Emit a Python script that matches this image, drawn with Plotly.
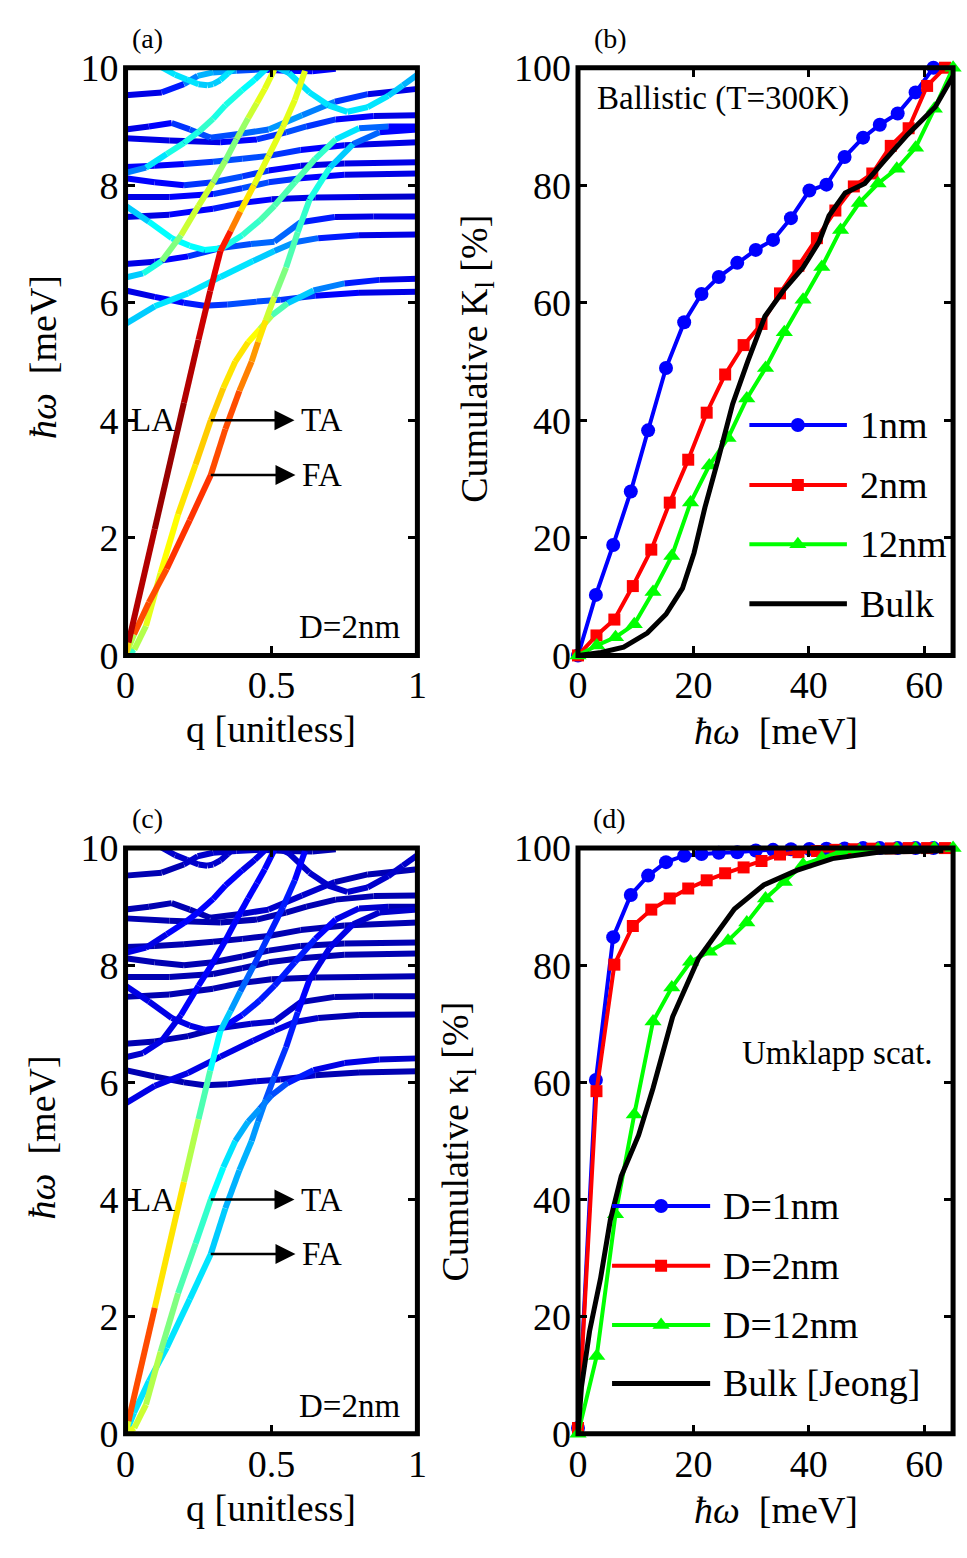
import plotly.graph_objects as go

W, H = 967, 1558
SERIF = "Liberation Serif"

# ---------------- phonon dispersion of the D = 2 nm wire ----------------
# q is unitless, E in meV; *_ca / *_cc are the jet colour weights along each
# branch for the ballistic (a) and Umklapp (c) panels.
LA_q = [0, 0.01, 0.1, 0.2, 0.25, 0.29, 0.325, 0.36, 0.393, 0.44, 0.49, 0.54, 0.58, 0.615]
LA_E = [0, 0.22, 2.15, 4.3, 5.37, 6.2, 6.88, 7.22, 7.55, 8.0, 8.5, 9.0, 9.45, 9.95]
LA_ca = [0.4, 0.95, 0.97, 0.97, 0.95, 0.92, 0.88, 0.8, 0.7, 0.62, 0.6, 0.6, 0.62, 0.6]
LA_cc = [0.3, 0.9, 0.72, 0.58, 0.5, 0.42, 0.35, 0.3, 0.25, 0.2, 0.17, 0.15, 0.14, 0.13]

TA_q = [0, 0.03, 0.07, 0.12, 0.18, 0.24, 0.292, 0.335, 0.376, 0.42, 0.46, 0.5, 0.555, 0.644, 0.75, 0.87, 1.0]
TA_E = [0, 0.1, 0.5, 1.4, 2.4, 3.25, 4.0, 4.55, 5.0, 5.33, 5.55, 5.78, 5.99, 6.21, 6.33, 6.39, 6.41]
TA_ca = [0.35, 0.5, 0.58, 0.62, 0.65, 0.67, 0.68, 0.67, 0.65, 0.63, 0.6, 0.5, 0.38, 0.28, 0.2, 0.12, 0.1]
TA_cc = [0.62, 0.6, 0.56, 0.52, 0.48, 0.44, 0.4, 0.36, 0.32, 0.28, 0.25, 0.22, 0.18, 0.12, 0.1, 0.08, 0.07]

FA_q = [0, 0.029, 0.08, 0.141, 0.22, 0.292, 0.342, 0.39, 0.432, 0.454, 0.48, 0.51, 0.55, 0.59, 0.63, 0.7, 0.78, 0.87, 1.0]
FA_E = [0, 0.36, 0.9, 1.47, 2.3, 3.07, 3.85, 4.5, 5.0, 5.33, 5.7, 6.1, 6.6, 7.2, 7.75, 8.3, 8.7, 8.9, 8.95]
FA_ca = [0.3, 0.78, 0.8, 0.82, 0.82, 0.82, 0.8, 0.78, 0.74, 0.7, 0.62, 0.52, 0.46, 0.44, 0.42, 0.38, 0.28, 0.15, 0.1]
FA_cc = [0.35, 0.36, 0.36, 0.36, 0.35, 0.34, 0.32, 0.3, 0.28, 0.26, 0.22, 0.18, 0.15, 0.13, 0.12, 0.1, 0.08, 0.07, 0.06]

O1_q = [0.12, 0.17, 0.21, 0.25, 0.28, 0.3, 0.325, 0.35, 0.376]
O1_E = [10.02, 9.88, 9.8, 9.72, 9.7, 9.72, 9.79, 9.9, 10.02]
O1_ca = [0.36, 0.36, 0.35, 0.34, 0.33, 0.33, 0.34, 0.35, 0.36]
O1_cc = [0.08, 0.08, 0.08, 0.08, 0.08, 0.08, 0.08, 0.08, 0.08]

O2_q = [0, 0.124, 0.2, 0.247, 0.3, 0.38, 0.46, 0.55, 0.64, 0.72]
O2_E = [9.53, 9.58, 9.72, 9.86, 9.92, 9.95, 9.97, 9.95, 9.94, 9.98]
O2_ca = [0.1, 0.12, 0.2, 0.28, 0.3, 0.25, 0.15, 0.12, 0.12, 0.12]
O2_cc = [0.05, 0.05, 0.06, 0.07, 0.07, 0.07, 0.06, 0.05, 0.05, 0.05]

O3_q = [0.5, 0.56, 0.63, 0.695, 0.76, 0.83, 0.9, 0.95, 1.0]
O3_E = [10.05, 9.91, 9.58, 9.36, 9.25, 9.33, 9.52, 9.7, 9.88]
O3_ca = [0.3, 0.33, 0.36, 0.36, 0.36, 0.35, 0.33, 0.32, 0.3]
O3_cc = [0.07, 0.07, 0.08, 0.08, 0.08, 0.08, 0.08, 0.08, 0.08]

O4_q = [0, 0.08, 0.158, 0.22, 0.29, 0.4, 0.49, 0.605, 0.717, 0.83, 1.0]
O4_E = [8.95, 9.0, 9.06, 8.95, 8.81, 8.88, 8.95, 9.19, 9.42, 9.55, 9.64]
O4_ca = [0.1, 0.12, 0.15, 0.2, 0.22, 0.2, 0.25, 0.28, 0.22, 0.12, 0.08]
O4_cc = [0.05, 0.05, 0.06, 0.06, 0.06, 0.06, 0.07, 0.07, 0.06, 0.05, 0.05]

O5_q = [0, 0.15, 0.325, 0.45, 0.55, 0.62, 0.72, 0.85, 1.0]
O5_E = [8.8, 8.76, 8.73, 8.78, 8.9, 9.0, 9.12, 9.18, 9.19]
O5_ca = [0.08, 0.1, 0.12, 0.15, 0.2, 0.2, 0.15, 0.1, 0.08]
O5_cc = [0.05, 0.05, 0.05, 0.06, 0.06, 0.06, 0.06, 0.05, 0.05]

O6_q = [0, 0.1, 0.2, 0.3, 0.4, 0.49, 0.6, 0.75, 1.0]
O6_E = [8.31, 8.33, 8.36, 8.4, 8.45, 8.5, 8.6, 8.68, 8.73]
O6_ca = [0.12, 0.12, 0.15, 0.2, 0.22, 0.2, 0.15, 0.1, 0.08]
O6_cc = [0.05, 0.05, 0.06, 0.06, 0.06, 0.06, 0.06, 0.05, 0.05]

O7_q = [0, 0.07, 0.141, 0.2, 0.253, 0.3, 0.342, 0.4, 0.443, 0.49]
O7_E = [8.21, 8.3, 8.53, 8.72, 8.92, 9.13, 9.36, 9.62, 9.8, 10.02]
O7_ca = [0.2, 0.3, 0.38, 0.4, 0.42, 0.42, 0.4, 0.38, 0.36, 0.35]
O7_cc = [0.08, 0.1, 0.12, 0.12, 0.12, 0.12, 0.12, 0.12, 0.1, 0.1]

O8_q = [0, 0.1, 0.2, 0.3, 0.4, 0.49, 0.6, 0.75, 1.0]
O8_E = [8.12, 8.05, 8.0, 8.05, 8.15, 8.25, 8.33, 8.37, 8.39]
O8_ca = [0.12, 0.12, 0.15, 0.2, 0.22, 0.15, 0.12, 0.1, 0.08]
O8_cc = [0.05, 0.05, 0.06, 0.06, 0.06, 0.06, 0.05, 0.05, 0.05]

O9_q = [0, 0.15, 0.3, 0.4, 0.49, 0.6, 0.75, 1.0]
O9_E = [7.8, 7.8, 7.85, 7.95, 8.05, 8.12, 8.18, 8.2]
O9_ca = [0.1, 0.12, 0.15, 0.2, 0.2, 0.15, 0.1, 0.08]
O9_cc = [0.05, 0.05, 0.06, 0.06, 0.06, 0.05, 0.05, 0.05]

O10_q = [0, 0.08, 0.158, 0.22, 0.27, 0.33, 0.4, 0.46, 0.51, 0.58, 0.65, 0.72, 0.8, 0.9, 1.0]
O10_E = [7.65, 7.38, 7.1, 6.97, 6.9, 6.93, 7.15, 7.4, 7.65, 8.05, 8.45, 8.78, 8.97, 9.0, 9.0]
O10_ca = [0.3, 0.35, 0.38, 0.38, 0.36, 0.4, 0.42, 0.44, 0.46, 0.46, 0.45, 0.4, 0.3, 0.15, 0.1]
O10_cc = [0.08, 0.1, 0.1, 0.1, 0.1, 0.12, 0.14, 0.15, 0.15, 0.15, 0.14, 0.12, 0.1, 0.06, 0.05]

O11_q = [0, 0.15, 0.3, 0.4, 0.5, 0.65, 0.8, 1.0]
O11_E = [7.46, 7.5, 7.6, 7.7, 7.76, 7.79, 7.8, 7.81]
O11_ca = [0.1, 0.12, 0.15, 0.15, 0.12, 0.1, 0.08, 0.08]
O11_cc = [0.05, 0.05, 0.05, 0.05, 0.05, 0.05, 0.05, 0.05]

O12_q = [0, 0.1, 0.214, 0.325, 0.43, 0.51, 0.6, 0.717, 0.85, 1.0]
O12_E = [6.66, 6.7, 6.79, 6.93, 7.0, 7.04, 7.37, 7.46, 7.47, 7.47]
O12_ca = [0.1, 0.12, 0.15, 0.2, 0.22, 0.25, 0.2, 0.12, 0.1, 0.08]
O12_cc = [0.05, 0.05, 0.06, 0.06, 0.07, 0.07, 0.06, 0.05, 0.05, 0.05]

O13_q = [0, 0.06, 0.124, 0.19, 0.25, 0.3, 0.342, 0.38, 0.42, 0.45, 0.477, 0.51]
O13_E = [6.43, 6.5, 6.71, 7.15, 7.65, 8.05, 8.42, 8.78, 9.14, 9.4, 9.64, 9.97]
O13_ca = [0.3, 0.35, 0.45, 0.55, 0.58, 0.55, 0.5, 0.5, 0.55, 0.58, 0.6, 0.6]
O13_cc = [0.06, 0.08, 0.1, 0.12, 0.13, 0.13, 0.13, 0.13, 0.13, 0.13, 0.12, 0.12]

O14_q = [0, 0.1, 0.2, 0.27, 0.35, 0.45, 0.53, 0.65, 0.8, 1.0]
O14_E = [6.21, 6.1, 6.0, 5.95, 5.97, 6.02, 6.05, 6.12, 6.17, 6.19]
O14_ca = [0.1, 0.12, 0.15, 0.15, 0.18, 0.2, 0.2, 0.15, 0.1, 0.08]
O14_cc = [0.05, 0.05, 0.06, 0.06, 0.06, 0.07, 0.07, 0.06, 0.05, 0.05]

O15_q = [0, 0.1, 0.214, 0.325, 0.437, 0.51, 0.58, 0.66, 0.8, 1.0]
O15_E = [5.64, 5.94, 6.16, 6.44, 6.71, 6.88, 7.03, 7.1, 7.15, 7.16]
O15_ca = [0.32, 0.35, 0.36, 0.35, 0.33, 0.3, 0.25, 0.18, 0.12, 0.08]
O15_cc = [0.08, 0.1, 0.1, 0.1, 0.1, 0.1, 0.08, 0.06, 0.05, 0.05]

# ---------------- cumulative thermal conductivity ----------------
# frequency grids (meV)
W1 = [0, 3.1, 6.1, 9.15, 12.15, 15.25, 18.4, 21.4, 24.4, 27.6, 30.8, 33.8, 36.9, 40.1, 43.05, 46.2, 49.4, 52.3, 55.4, 58.5, 61.6]
W2 = [0, 3.2, 6.3, 9.5, 12.7, 15.9, 19.1, 22.3, 25.5, 28.7, 31.8, 35.0, 38.2, 41.4, 44.6, 47.8, 51.0, 54.2, 57.3, 60.5, 63.6]
W12 = [0, 3.25, 6.5, 9.75, 13.0, 16.25, 19.5, 22.75, 26.0, 29.25, 32.5, 35.75, 39.0, 42.25, 45.5, 48.75, 52.0, 55.25, 58.5, 61.75, 65.0]

# ballistic (T = 300 K), %
K1_bal = [0, 10.3, 18.8, 27.9, 38.3, 48.9, 56.7, 61.5, 64.4, 66.8, 69.0, 70.7, 74.4, 79.1, 80.1, 84.8, 88.1, 90.3, 92.2, 95.8, 100]
K2_bal = [0, 3.4, 6.1, 11.8, 18.0, 26.0, 33.3, 41.3, 47.8, 52.8, 56.4, 61.6, 66.3, 71.0, 75.7, 79.8, 82.0, 86.7, 89.7, 96.9, 100]
K12_bal = [0, 1.7, 3.1, 5.3, 10.8, 16.9, 26.0, 32.3, 37.0, 43.7, 48.9, 55.0, 60.5, 66.1, 72.4, 77.0, 80.3, 82.8, 86.4, 93.0, 100]
WB_bal = [0, 4.0, 7.9, 12.0, 15.25, 18.1, 20.1, 22.0, 24.3, 26.8, 29.4, 32.4, 35.6, 39.0, 41.8, 43.5, 46.3, 49.7, 53.1, 57.1, 61.9, 65.0]
KB_bal = [0, 0.5, 1.4, 3.8, 7.0, 11.4, 17.4, 25.2, 33.4, 42.8, 50.0, 57.7, 62.1, 66.0, 70.4, 74.8, 78.7, 80.3, 84.2, 88.6, 93.3, 98.6]

# Umklapp scattering, %
K1_umk = [1, 60.4, 84.8, 92.0, 95.3, 97.6, 98.7, 99.0, 99.2, 99.3, 99.6, 99.7, 99.8, 99.85, 99.9, 99.95, 100, 100, 100, 100, 100]
K2_umk = [1, 58.5, 80.1, 86.7, 89.5, 91.4, 93.1, 94.5, 95.7, 96.7, 97.8, 98.9, 99.3, 99.5, 99.7, 99.8, 99.9, 99.95, 100, 100, 100]
K12_umk = [0, 13.3, 37.5, 54.5, 70.4, 76.2, 80.6, 82.3, 84.2, 87.3, 91.4, 94.2, 97.2, 98.3, 99.4, 99.6, 99.8, 99.9, 99.95, 100, 100]
WB_umk = [0, 0.6, 2.0, 3.9, 5.6, 7.5, 10.5, 13.0, 16.4, 20.9, 27.1, 32.2, 37.9, 44.1, 52.0, 63.3]
KB_umk = [0, 8.0, 17.5, 26.5, 36.5, 44.0, 51.0, 59.0, 71.2, 81.2, 89.6, 93.7, 96.2, 98.2, 99.3, 99.55]

LEG_B = ["1nm", "2nm", "12nm", "Bulk"]
LEG_D = ["D=1nm", "D=2nm", "D=12nm", "Bulk [Jeong]"]

BRANCHES = [
    (LA_q, LA_E, LA_ca, LA_cc), (TA_q, TA_E, TA_ca, TA_cc), (FA_q, FA_E, FA_ca, FA_cc),
    (O1_q, O1_E, O1_ca, O1_cc), (O2_q, O2_E, O2_ca, O2_cc), (O3_q, O3_E, O3_ca, O3_cc),
    (O4_q, O4_E, O4_ca, O4_cc), (O5_q, O5_E, O5_ca, O5_cc), (O6_q, O6_E, O6_ca, O6_cc),
    (O7_q, O7_E, O7_ca, O7_cc), (O8_q, O8_E, O8_ca, O8_cc), (O9_q, O9_E, O9_ca, O9_cc),
    (O10_q, O10_E, O10_ca, O10_cc), (O11_q, O11_E, O11_ca, O11_cc), (O12_q, O12_E, O12_ca, O12_cc),
    (O13_q, O13_E, O13_ca, O13_cc), (O14_q, O14_E, O14_ca, O14_cc), (O15_q, O15_E, O15_ca, O15_cc),
]


def px(x):
    return x / W


def py(y):
    return 1 - y / H


def jet(v):
    r = min(max(1.5 - abs(4 * v - 3), 0.0), 1.0)
    g = min(max(1.5 - abs(4 * v - 2), 0.0), 1.0)
    b = min(max(1.5 - abs(4 * v - 1), 0.0), 1.0)
    return "rgb(%d,%d,%d)" % (round(r * 255), round(g * 255), round(b * 255))


fig = go.Figure()


def add_branches(col, xa, ya):
    """Draw every branch as short segments, grouped by jet colour bin."""
    bins = {}
    for br in BRANCHES:
        q, e, c = br[0], br[1], br[col]
        for i in range(len(q) - 1):
            v = round((c[i] + c[i + 1]) / 2 * 40) / 40
            xs, ys = bins.setdefault(v, ([], []))
            xs += [q[i], q[i + 1], None]
            ys += [e[i], e[i + 1], None]
    for v in sorted(bins):
        xs, ys = bins[v]
        fig.add_trace(go.Scatter(x=xs, y=ys, mode="lines",
                                 line=dict(color=jet(v), width=6),
                                 xaxis=xa, yaxis=ya, hoverinfo="skip",
                                 showlegend=False))


add_branches(2, "x", "y")
add_branches(3, "x3", "y3")

STY = [("#0000ff", "circle", 14), ("#ff0000", "square", 12), ("#00ff00", "triangle-up", 15)]


def add_series(x, y, k, xa, ya):
    color, sym, size = STY[k]
    fig.add_trace(go.Scatter(x=x, y=y, mode="lines+markers",
                             line=dict(color=color, width=4),
                             marker=dict(symbol=sym, size=size, color=color, line=dict(width=0)),
                             xaxis=xa, yaxis=ya, cliponaxis=False, showlegend=False))


def add_black(x, y, xa, ya):
    fig.add_trace(go.Scatter(x=x, y=y, mode="lines", line=dict(color="black", width=5),
                             xaxis=xa, yaxis=ya, cliponaxis=False, showlegend=False))


add_series(W1, K1_bal, 0, "x2", "y2")
add_series(W2, K2_bal, 1, "x2", "y2")
add_series(W12, K12_bal, 2, "x2", "y2")
add_black(WB_bal, KB_bal, "x2", "y2")

add_series(W1, K1_umk, 0, "x4", "y4")
add_series(W2, K2_umk, 1, "x4", "y4")
add_series(W12, K12_umk, 2, "x4", "y4")
add_black(WB_umk, KB_umk, "x4", "y4")

annotations = []


def legend(xa, ya, x0, x1, xm, xt, rows, labels, size):
    for k, (yy, lab) in enumerate(zip(rows, labels)):
        if k < 3:
            color, sym, msz = STY[k]
            fig.add_trace(go.Scatter(x=[x0, x1], y=[yy, yy], mode="lines",
                                     line=dict(color=color, width=4), xaxis=xa, yaxis=ya,
                                     hoverinfo="skip", showlegend=False))
            fig.add_trace(go.Scatter(x=[xm], y=[yy], mode="markers",
                                     marker=dict(symbol=sym, size=msz, color=color),
                                     xaxis=xa, yaxis=ya, hoverinfo="skip", showlegend=False))
        else:
            fig.add_trace(go.Scatter(x=[x0, x1], y=[yy, yy], mode="lines",
                                     line=dict(color="black", width=5), xaxis=xa, yaxis=ya,
                                     hoverinfo="skip", showlegend=False))
        annotations.append(dict(x=xt, y=yy, xref=xa, yref=ya, text=lab, showarrow=False,
                                xanchor="left", yanchor="middle",
                                font=dict(family=SERIF, size=size, color="black")))


legend("x2", "y2", 29.7, 46.6, 38.1, 48.6, [39.2, 29.0, 18.9, 8.8], LEG_B, 38)
legend("x4", "y4", 5.9, 22.9, 14.4, 24.7, [38.9, 28.7, 18.6, 8.6], LEG_D, 38)


def txt(x, y, s, size, xref="paper", yref="paper", xanchor="center", angle=0):
    annotations.append(dict(x=x, y=y, xref=xref, yref=yref, text=s, showarrow=False,
                            xanchor=xanchor, yanchor="middle", textangle=angle,
                            font=dict(family=SERIF, size=size, color="black")))


HW = "<i>ħω</i>\u00a0\u00a0[meV]"
for lab, (x, y) in zip(["(a)", "(b)", "(c)", "(d)"], [(140, 18), (613, 18), (140, 820), (612, 820)]):
    txt(px(x), py(y), lab, 28)
txt(px(267), py(728), "q [unitless]", 38)
txt(px(267), py(1528), "q [unitless]", 38)
txt(px(782), py(730), HW, 38)
txt(px(782), py(1530), HW, 38)
txt(px(33), py(345), HW, 38, angle=-90)
txt(px(33), py(1147), HW, 38, angle=-90)
txt(px(476), py(347), "Cumulative K<sub>l</sub> [%]", 38, angle=-90)
txt(px(457), py(1152), "Cumulative κ<sub>l</sub> [%]", 38, angle=-90)
txt(3.0, 94.7, "Ballistic (T=300K)", 33, "x2", "y2", "left")
txt(28.1, 65.0, "Umklapp scat.", 33, "x4", "y4", "left")

for xa, ya in [("x", "y"), ("x3", "y3")]:
    txt(0.094, 4.0, "LA", 33, xa, ya)
    txt(0.768, 0.48, "D=2nm", 33, xa, ya)
    # mode labels carry the arrow pointing at them from the branch
    for lab, yy in (("TA", 4.0), ("FA", 3.07)):
        annotations.append(dict(x=0.292, y=yy, ax=0.673, ay=yy, xref=xa, yref=ya,
                                axref=xa, ayref=ya, text=lab, showarrow=True,
                                arrowside="start", startarrowhead=2, startarrowsize=1.6,
                                startstandoff=5, arrowwidth=2.5, arrowcolor="black",
                                xanchor="center", yanchor="middle",
                                font=dict(family=SERIF, size=33, color="black")))

shapes = []
for xa in ["x", "x2", "x3", "x4"]:
    ya = xa.replace("x", "y")
    shapes.append(dict(type="rect", xref=xa + " domain", yref=ya + " domain",
                       x0=0, x1=1, y0=0, y1=1, line=dict(color="black", width=5),
                       layer="above"))

ax_style = dict(showgrid=False, zeroline=False, showline=False, ticks="inside",
                ticklen=9, tickwidth=3, tickcolor="black", mirror="ticks",
                tickfont=dict(family=SERIF, size=38, color="black"), fixedrange=True)
y_style = dict(ax_style, ticklabelstandoff=6)
x_style = dict(ax_style, ticklabelstandoff=4)

fig.update_layout(
    width=W, height=H, autosize=False,
    margin=dict(l=0, r=0, t=0, b=0, pad=0),
    paper_bgcolor="white", plot_bgcolor="white",
    font=dict(family=SERIF, color="black"),
    showlegend=False,
    xaxis=dict(domain=[px(118), px(416)], range=[0, 1], anchor="y",
               tickvals=[0, 0.5, 1], ticktext=["0", "0.5", "1"], **x_style),
    yaxis=dict(domain=[py(652), py(48)], range=[0, 10], anchor="x",
               tickvals=[0, 2, 4, 6, 8, 10], **y_style),
    xaxis2=dict(domain=[px(580), px(963)], range=[0, 65], anchor="y2",
                tickvals=[0, 20, 40, 60], **x_style),
    yaxis2=dict(domain=[py(652), py(48)], range=[0, 100], anchor="x2",
                tickvals=[0, 20, 40, 60, 80, 100], **y_style),
    xaxis3=dict(domain=[px(118), px(416)], range=[0, 1], anchor="y3",
                tickvals=[0, 0.5, 1], ticktext=["0", "0.5", "1"], **x_style),
    yaxis3=dict(domain=[py(1452), py(850)], range=[0, 10], anchor="x3",
                tickvals=[0, 2, 4, 6, 8, 10], **y_style),
    xaxis4=dict(domain=[px(580), px(963)], range=[0, 65], anchor="y4",
                tickvals=[0, 20, 40, 60], **x_style),
    yaxis4=dict(domain=[py(1452), py(850)], range=[0, 100], anchor="x4",
                tickvals=[0, 20, 40, 60, 80, 100], **y_style),
    annotations=annotations,
    shapes=shapes,
)

fig.write_html("out.html")
